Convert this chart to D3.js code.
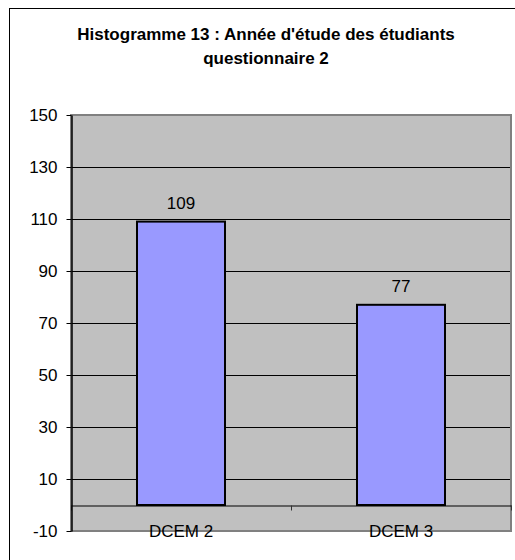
<!DOCTYPE html>
<html>
<head>
<meta charset="utf-8">
<script src="https://cdn.jsdelivr.net/npm/d3@7"></script>
<style>
  body { margin: 0; background: #fff; }
  text { font-family: "Liberation Sans", Arial, sans-serif; fill: #000; }
</style>
</head>
<body>
<div id="chart"></div>
<script>
var titleLines = ["Histogramme 13 : Année d'étude des étudiants", "questionnaire 2"];
var categories = ["DCEM 2", "DCEM 3"];
var values = [109, 77];
var yTicks = [-10, 10, 30, 50, 70, 90, 110, 130, 150];
var gridValues = [10, 30, 50, 70, 90, 110, 130];

var width = 515, height = 560;
var plot = { left: 71, top: 115, right: 511, bottom: 531 };
var fontSize = "17px";

var svg = d3.select("#chart")
    .append("svg")
    .attr("width", width)
    .attr("height", height);

//outer chart frame (runs off the picture on the right and bottom)
svg.append("rect")
    .attr("x", 9.5)
    .attr("y", 8.5)
    .attr("width", 530)
    .attr("height", 570)
    .attr("fill", "#fff")
    .attr("stroke", "#000")
    .attr("stroke-width", 1);

//title
svg.append("text")
    .attr("text-anchor", "middle")
    .attr("font-weight", "bold")
    .attr("font-size", fontSize)
    .selectAll("tspan")
    .data(titleLines)
    .enter()
    .append("tspan")
    .attr("x", 266)
    .attr("y", function(d, i) { return 40 + i * 24; })
    .text(function(d) { return d; });

var y = d3.scaleLinear()
    .domain([-10, 150])
    .range([plot.bottom, plot.top]);

var x = d3.scaleBand()
    .domain(categories)
    .range([plot.left, plot.right])
    .paddingInner(0.6)
    .paddingOuter(0.3);

//plot area background
svg.append("rect")
    .attr("x", plot.left)
    .attr("y", plot.top)
    .attr("width", plot.right - plot.left)
    .attr("height", plot.bottom - plot.top)
    .attr("fill", "#c0c0c0");

//gridlines
svg.selectAll("line.grid")
    .data(gridValues)
    .enter()
    .append("line")
    .attr("class", "grid")
    .attr("x1", plot.left)
    .attr("x2", plot.right)
    .attr("y1", function(d) { return Math.round(y(d)) + 0.5; })
    .attr("y2", function(d) { return Math.round(y(d)) + 0.5; })
    .attr("stroke", "#000")
    .attr("stroke-width", 1);

//plot border
svg.append("rect")
    .attr("x", plot.left)
    .attr("y", plot.top)
    .attr("width", plot.right - plot.left)
    .attr("height", plot.bottom - plot.top)
    .attr("fill", "none")
    .attr("stroke", "#808080")
    .attr("stroke-width", 2);

//bars
svg.selectAll("rect.bar")
    .data(values)
    .enter()
    .append("rect")
    .attr("class", "bar")
    .attr("x", function(d, i) { return x(categories[i]); })
    .attr("y", function(d) { return y(d); })
    .attr("width", x.bandwidth())
    .attr("height", function(d) { return y(0) - y(d); })
    .attr("fill", "#9999ff")
    .attr("stroke", "#000")
    .attr("stroke-width", 2);

//value labels
svg.selectAll("text.value")
    .data(values)
    .enter()
    .append("text")
    .attr("class", "value")
    .attr("text-anchor", "middle")
    .attr("font-size", fontSize)
    .attr("x", function(d, i) { return x(categories[i]) + x.bandwidth() / 2; })
    .attr("y", function(d) { return y(d) - 13; })
    .text(function(d) { return d; });

//category axis on the zero line, ticks between categories
var xEdges = d3.scaleLinear()
    .domain([0, categories.length])
    .range([plot.left, plot.right]);

var xAxis = svg.append("g")
    .attr("transform", "translate(0," + (Math.round(y(0)) + 0.5) + ")")
    .call(d3.axisBottom(xEdges)
        .tickValues(d3.range(categories.length + 1))
        .tickSize(5)
        .tickSizeOuter(0)
        .tickFormat(""));
xAxis.select(".domain").attr("stroke", "#000");
xAxis.selectAll(".tick line").attr("stroke", "#333");

//value axis
var yAxis = svg.append("g")
    .attr("transform", "translate(" + (plot.left + 0.5) + ",0)")
    .call(d3.axisLeft(y)
        .tickValues(yTicks)
        .tickSize(5)
        .tickSizeOuter(0)
        .tickPadding(9)
        .tickFormat(function(d) { return String(d); }));
yAxis.select(".domain").attr("stroke", "#000").attr("stroke-width", 1.5);
yAxis.selectAll(".tick line").attr("stroke", "#000");
yAxis.selectAll(".tick text")
    .attr("font-size", fontSize)
    .attr("font-family", "Liberation Sans, Arial, sans-serif")
    .attr("fill", "#000");

//category labels
svg.selectAll("text.cat")
    .data(categories)
    .enter()
    .append("text")
    .attr("class", "cat")
    .attr("text-anchor", "middle")
    .attr("font-size", fontSize)
    .attr("x", function(d) { return x(d) + x.bandwidth() / 2; })
    .attr("y", 537)
    .text(function(d) { return d; });
</script>
</body>
</html>
